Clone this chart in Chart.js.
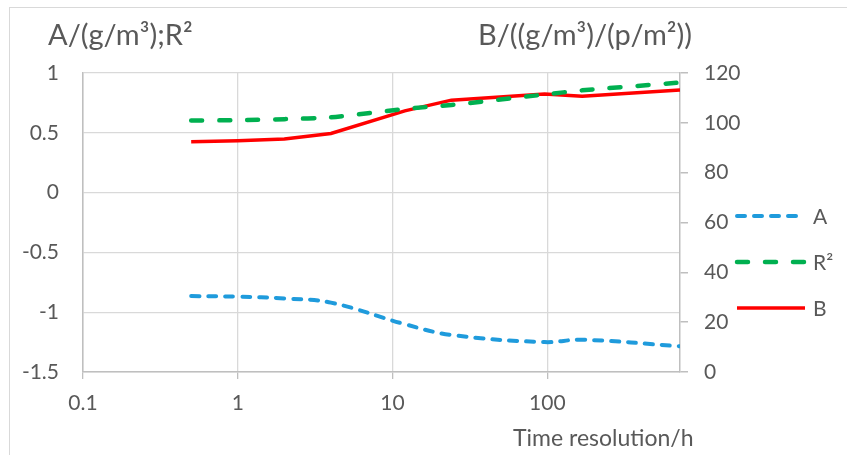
<!DOCTYPE html>
<html>
<head>
<meta charset="utf-8">
<script src="https://cdn.jsdelivr.net/npm/chart.js@4"></script>
<style>
  html, body { margin: 0; padding: 0; background: #fff; overflow: hidden; }
  #wrap { position: relative; width: 847px; height: 455px; overflow: hidden; font-family: Lato, sans-serif; color: #595959; }
  #frame { position: absolute; left: 9px; top: 7px; width: 900px; height: 500px; border: 1px solid #d9d9d9; }
  canvas { position: absolute; left: 0; top: 0; }
  .ttl { position: absolute; white-space: nowrap; line-height: 1; }
</style>
</head>
<body>
<div id="wrap">
  <div id="frame"></div>
  <canvas id="chart" width="847" height="455"></canvas>
  <div class="ttl" style="left:48px; top:19px; font-size:29px;">A/(g/m³);R²</div>
  <div class="ttl" style="left:478px; top:19px; font-size:29px;">B/((g/m³)/(p/m²))</div>
  <div class="ttl" style="left:513px; top:426px; font-size:23px;">Time resolution/h</div>
</div>
<script>
// time resolution in hours
const hours = [0.5, 1, 2, 4, 12, 24, 96, 168, 720];
const seriesA = [-0.865, -0.87, -0.885, -0.92, -1.10, -1.19, -1.25, -1.23, -1.285];
const seriesR2 = [0.603, 0.605, 0.614, 0.63, 0.70, 0.733, 0.82, 0.855, 0.92];
const seriesB = [92.4, 92.8, 93.5, 95.7, 104.8, 109.1, 111.6, 110.7, 113.2];
const xTicks = [0.1, 1, 10, 100];

const textGray = '#595959';
const gridGray = '#d9d9d9';
const axisGray = '#bfbfbf';

function pts(vals) {
    return hours.map((h, i) => ({ x: h, y: vals[i] }));
}

// legend drawn beside the right axis, like the original
const sideLegend = {
    id: 'sideLegend',
    afterDraw(chart) {
        const { ctx, chartArea } = chart;
        const x0 = chartArea.right + 57;
        const x1 = x0 + 68;
        const rows = [143, 189, 235];
        chart.data.datasets.forEach((ds, i) => {
            const y = chartArea.top + rows[i];
            ctx.save();
            ctx.strokeStyle = ds.borderColor;
            ctx.lineWidth = ds.borderWidth;
            ctx.lineCap = ds.borderCapStyle || 'butt';
            ctx.setLineDash(ds.borderDash || []);
            ctx.beginPath();
            ctx.moveTo(x0, y);
            ctx.lineTo(x1, y);
            ctx.stroke();
            ctx.setLineDash([]);
            ctx.fillStyle = textGray;
            ctx.font = '21px Lato';
            ctx.textBaseline = 'middle';
            ctx.fillText(ds.label, x1 + 8, y + 1);
            ctx.restore();
        });
    }
};

new Chart(document.getElementById('chart'), {
    type: 'line',
    data: {
        datasets: [{
            label: 'A',
            data: pts(seriesA),
            yAxisID: 'y',
            borderColor: '#1f9bdc',
            borderWidth: 4,
            borderDash: [8, 9],
            borderCapStyle: 'round',
            tension: 0.4,
            pointRadius: 0,
            fill: false
        }, {
            label: 'R²',
            data: pts(seriesR2),
            yAxisID: 'y',
            borderColor: '#00b050',
            borderWidth: 4.5,
            borderDash: [11, 17],
            borderCapStyle: 'round',
            tension: 0.2,
            pointRadius: 0,
            fill: false
        }, {
            label: 'B',
            data: pts(seriesB),
            yAxisID: 'y1',
            borderColor: '#ff0000',
            borderWidth: 3.5,
            tension: 0,
            pointRadius: 0,
            fill: false
        }]
    },
    options: {
        responsive: false,
        animation: false,
        devicePixelRatio: 1,
        layout: { padding: { top: 73, left: 0, right: 0, bottom: 0 } },
        plugins: {
            legend: { display: false },
            tooltip: { enabled: false }
        },
        scales: {
            x: {
                type: 'logarithmic',
                min: 0.1,
                max: 720,
                afterBuildTicks: (scale) => {
                    scale.ticks = xTicks.map(v => ({ value: v, major: true }));
                },
                afterFit: (scale) => { scale.height = 83; },
                grid: { color: gridGray, lineWidth: 1.3, tickLength: 7, tickColor: axisGray },
                border: { color: axisGray, width: 1.5 },
                ticks: {
                    color: textGray,
                    font: { family: 'Lato', size: 21 },
                    padding: 12,
                    maxRotation: 0,
                    callback: (v) => String(v)
                }
            },
            y: {
                position: 'left',
                min: -1.5,
                max: 1,
                afterFit: (scale) => { scale.width = 83; },
                grid: { color: gridGray, lineWidth: 1.3, drawTicks: false },
                border: { color: axisGray, width: 1.5 },
                ticks: {
                    stepSize: 0.5,
                    color: textGray,
                    font: { family: 'Lato', size: 21 },
                    padding: 24,
                    callback: (v) => String(v)
                }
            },
            y1: {
                position: 'right',
                min: 0,
                max: 120,
                afterFit: (scale) => { scale.width = 167; },
                grid: { drawOnChartArea: false, tickLength: 8, tickColor: axisGray, lineWidth: 1.5 },
                border: { color: axisGray, width: 1.5 },
                ticks: {
                    stepSize: 20,
                    color: textGray,
                    font: { family: 'Lato', size: 21 },
                    padding: 16
                }
            }
        }
    },
    plugins: [sideLegend]
});
</script>
</body>
</html>
